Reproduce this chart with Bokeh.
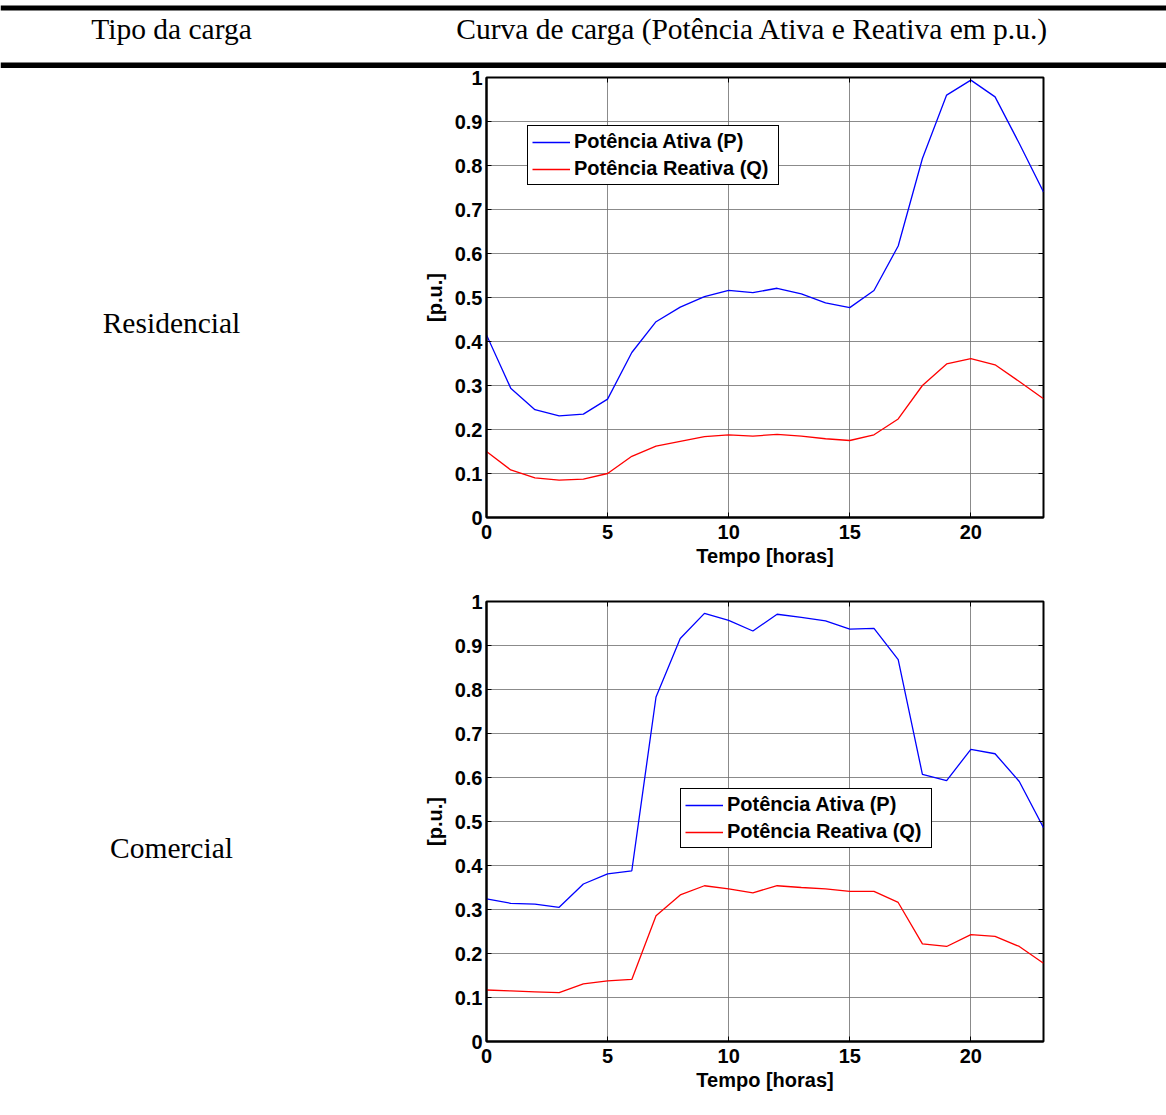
from bokeh.plotting import figure
from bokeh.layouts import column, row
from bokeh.models import (Range1d, FixedTicker, NumeralTickFormatter, LinearAxis,
                          Legend, CustomJSTickFormatter, ColumnDataSource)
from bokeh.core.properties import value
from bokeh.embed import file_html
from bokeh.resources import INLINE

# ---------------- data ----------------
hours = list(range(24))
res_p = [0.415, 0.294, 0.245, 0.231, 0.235, 0.269, 0.375, 0.445, 0.478, 0.502,
         0.516, 0.511, 0.521, 0.508, 0.488, 0.477, 0.516, 0.617, 0.816, 0.960,
         0.994, 0.956, 0.850, 0.740]
res_q = [0.150, 0.108, 0.090, 0.085, 0.087, 0.100, 0.139, 0.162, 0.173, 0.184,
         0.188, 0.185, 0.189, 0.185, 0.179, 0.175, 0.188, 0.224, 0.300, 0.349,
         0.361, 0.347, 0.309, 0.270]
com_p = [0.324, 0.314, 0.312, 0.305, 0.358, 0.381, 0.388, 0.783, 0.916, 0.973,
         0.957, 0.933, 0.971, 0.964, 0.956, 0.937, 0.939, 0.868, 0.607, 0.593,
         0.664, 0.654, 0.591, 0.486]
com_q = [0.117, 0.115, 0.113, 0.111, 0.131, 0.138, 0.141, 0.286, 0.333, 0.354,
         0.347, 0.338, 0.354, 0.350, 0.347, 0.341, 0.341, 0.316, 0.222, 0.216,
         0.243, 0.239, 0.216, 0.178]

x_ticks = [0, 5, 10, 15, 20]
y_ticks = [0.0, 0.1, 0.2, 0.3, 0.4, 0.5, 0.6, 0.7, 0.8, 0.9, 1.0]
header_labels = ["Tipo da carga", "Curva de carga (Potência Ativa e Reativa em p.u.)"]
row_labels = ["Residencial", "Comercial"]
legend_labels = ["Potência Ativa (P)", "Potência Reativa (Q)"]
x_label = "Tempo [horas]"
y_label = "[p.u.]"

SERIF = "Liberation Serif"
SANS = "Liberation Sans"
FS = "20px"
SERIF_FS = "29.5px"


def blank_fig(width, height):
    # screen-like coordinates: x to the right, y measured up from the bottom edge
    f = figure(width=width, height=height, x_range=Range1d(0, width),
               y_range=Range1d(0, height), x_axis_type=None, y_axis_type=None,
               title=None, output_backend="svg", toolbar_location=None, min_border=0)
    f.grid.visible = False
    f.outline_line_color = None
    return f


# ---------------- header (0..68 px) ----------------
HEAD_H = 68
header = blank_fig(1166, HEAD_H)
header.quad(left=[0, 0], right=[1166, 1166], top=[HEAD_H - 5, HEAD_H - 62],
            bottom=[HEAD_H - 10, HEAD_H - 68], color="black", line_color=None)
header.text(x=[171, 752], y=[HEAD_H - 28, HEAD_H - 28], text=header_labels,
            text_align="center", text_baseline="middle", text_font=value(SERIF),
            text_font_size=SERIF_FS, text_color="black")

# ---------------- left column with row labels (68..1100 px) ----------------
LEFT_H = 1100 - HEAD_H
left = blank_fig(400, LEFT_H)
left.text(x=[171, 171], y=[1100 - 322, 1100 - 847], text=row_labels,
          text_align="center", text_baseline="middle", text_font=value(SERIF),
          text_font_size=SERIF_FS, text_color="black")


def chart(p_vals, q_vals, height, b_top, b_bottom, leg_xy):
    f = figure(width=766, height=height, x_range=Range1d(0, 23), y_range=Range1d(0, 1),
               output_backend="svg", toolbar_location=None, title=None,
               min_border_left=86, min_border_right=123,
               min_border_top=b_top, min_border_bottom=b_bottom)
    src = ColumnDataSource(dict(h=hours, p=p_vals, q=q_vals))
    r1 = f.line("h", "p", source=src, line_color="#0000ff", line_width=1.3)
    r2 = f.line("h", "q", source=src, line_color="#ff0000", line_width=1.3)

    f.xaxis.ticker = FixedTicker(ticks=x_ticks)
    f.yaxis.ticker = FixedTicker(ticks=y_ticks)
    f.yaxis.formatter = NumeralTickFormatter(format="0.[0]")
    for ax in (f.xaxis[0], f.yaxis[0]):
        ax.major_tick_in = 5
        ax.major_tick_out = 0
        ax.minor_tick_line_color = None
        ax.axis_line_width = 2
        ax.axis_line_color = "black"
        ax.major_tick_line_color = "black"
        ax.major_label_text_font = SANS
        ax.major_label_text_font_style = "bold"
        ax.major_label_text_font_size = FS
        ax.major_label_text_color = "black"
        ax.axis_label_text_font = SANS
        ax.axis_label_text_font_style = "bold"
        ax.axis_label_text_font_size = FS
        ax.axis_label_text_color = "black"
    f.xaxis.axis_label = x_label
    f.yaxis.axis_label = y_label
    f.xaxis.major_label_standoff = 7
    f.xaxis.axis_label_standoff = 3
    f.yaxis.major_label_standoff = 4
    f.yaxis.axis_label_standoff = 6

    blank = CustomJSTickFormatter(code="return ''")
    top = LinearAxis(ticker=FixedTicker(ticks=x_ticks), formatter=blank,
                     major_tick_in=5, major_tick_out=0, minor_tick_line_color=None,
                     axis_line_color=None, major_label_standoff=0)
    right = LinearAxis(ticker=FixedTicker(ticks=y_ticks), formatter=blank,
                       major_tick_in=5, major_tick_out=0, minor_tick_line_color=None,
                       axis_line_color=None, major_label_standoff=0)
    f.add_layout(top, "above")
    f.add_layout(right, "right")

    f.xgrid.ticker = FixedTicker(ticks=x_ticks)
    f.ygrid.ticker = FixedTicker(ticks=y_ticks)
    f.grid.grid_line_color = "#6e6e6e"
    f.grid.grid_line_alpha = 0.8
    f.grid.grid_line_width = 1
    f.outline_line_color = "black"
    f.outline_line_width = 2
    f.outline_line_alpha = 1

    leg = Legend(items=[(legend_labels[0], [r1]), (legend_labels[1], [r2])],
                 location=leg_xy)
    leg.label_text_font = SANS
    leg.label_text_font_style = "bold"
    leg.label_text_font_size = FS
    leg.label_text_color = "black"
    leg.glyph_width = 38
    leg.glyph_height = 22
    leg.label_height = 22
    leg.label_width = 200
    leg.label_standoff = 4
    leg.spacing = 4
    leg.padding = 4
    leg.margin = 0
    leg.border_line_color = "black"
    leg.border_line_alpha = 1
    leg.border_line_width = 1.5
    leg.background_fill_color = "white"
    leg.background_fill_alpha = 1
    f.add_layout(leg)
    return f


top_chart = chart(res_p, res_q, 507, 9, 58, (41, 332))
bot_chart = chart(com_p, com_q, 525, 26, 59, (194, 193))

layout = column(header, row(left, column(top_chart, bot_chart)))

open("out.html", "w").write(file_html(layout, INLINE))
